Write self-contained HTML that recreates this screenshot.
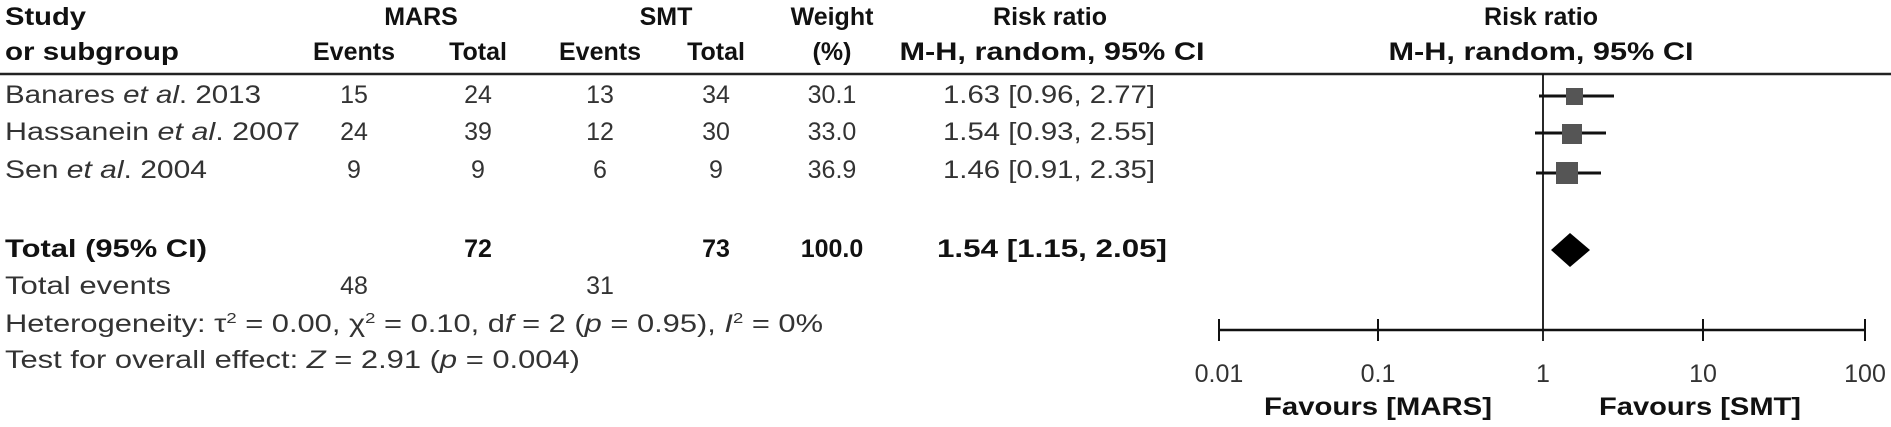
<!DOCTYPE html>
<html><head><meta charset="utf-8"><style>
html,body{margin:0;padding:0;background:#fff}
svg{display:block}
text{font-family:"Liberation Sans",sans-serif;font-size:25px;fill:#333}
.b{font-weight:bold;fill:#111}
.m{text-anchor:middle}
.e{text-anchor:end}
</style></head><body>
<svg width="1891" height="427" viewBox="0 0 1891 427">
<text class="b" x="5" y="25" textLength="81" lengthAdjust="spacingAndGlyphs">Study</text>
<text class="b" x="5" y="60" textLength="174" lengthAdjust="spacingAndGlyphs">or subgroup</text>
<text class="b m" x="421" y="25">MARS</text>
<text class="b m" x="666" y="25">SMT</text>
<text class="b m" x="832" y="25">Weight</text>
<text class="b m" x="1050" y="25">Risk ratio</text>
<text class="b m" x="354" y="60">Events</text>
<text class="b m" x="478" y="60">Total</text>
<text class="b m" x="600" y="60">Events</text>
<text class="b m" x="716" y="60">Total</text>
<text class="b m" x="832" y="60">(%)</text>
<text class="b m" x="1052" y="60" textLength="305" lengthAdjust="spacingAndGlyphs">M-H, random, 95% CI</text>
<text class="b m" x="1541" y="25">Risk ratio</text>
<text class="b m" x="1541" y="60" textLength="305" lengthAdjust="spacingAndGlyphs">M-H, random, 95% CI</text>
<line x1="0" y1="74" x2="1891" y2="74" stroke="#222" stroke-width="2.5"/>
<text x="5" y="103" textLength="256" lengthAdjust="spacingAndGlyphs">Banares <tspan font-style="italic">et al</tspan>. 2013</text>
<text class="m" x="354" y="103">15</text><text class="m" x="478" y="103">24</text><text class="m" x="600" y="103">13</text><text class="m" x="716" y="103">34</text><text class="m" x="832" y="103">30.1</text>
<text class="e" x="1155" y="103" textLength="212" lengthAdjust="spacingAndGlyphs">1.63 [0.96, 2.77]</text>
<text x="5" y="140" textLength="295" lengthAdjust="spacingAndGlyphs">Hassanein <tspan font-style="italic">et al</tspan>. 2007</text>
<text class="m" x="354" y="140">24</text><text class="m" x="478" y="140">39</text><text class="m" x="600" y="140">12</text><text class="m" x="716" y="140">30</text><text class="m" x="832" y="140">33.0</text>
<text class="e" x="1155" y="140" textLength="212" lengthAdjust="spacingAndGlyphs">1.54 [0.93, 2.55]</text>
<text x="5" y="178" textLength="202" lengthAdjust="spacingAndGlyphs">Sen <tspan font-style="italic">et al</tspan>. 2004</text>
<text class="m" x="354" y="178">9</text><text class="m" x="478" y="178">9</text><text class="m" x="600" y="178">6</text><text class="m" x="716" y="178">9</text><text class="m" x="832" y="178">36.9</text>
<text class="e" x="1155" y="178" textLength="212" lengthAdjust="spacingAndGlyphs">1.46 [0.91, 2.35]</text>
<text class="b" x="5" y="257" textLength="202" lengthAdjust="spacingAndGlyphs">Total (95% CI)</text>
<text class="b m" x="478" y="257">72</text><text class="b m" x="716" y="257">73</text><text class="b m" x="832" y="257">100.0</text>
<text class="b e" x="1167" y="257" textLength="230" lengthAdjust="spacingAndGlyphs">1.54 [1.15, 2.05]</text>
<text x="5" y="294" textLength="166" lengthAdjust="spacingAndGlyphs">Total events</text>
<text class="m" x="354" y="294">48</text><text class="m" x="600" y="294">31</text>
<text x="5" y="332" textLength="818" lengthAdjust="spacingAndGlyphs">Heterogeneity: τ<tspan font-size="15" dy="-9">2</tspan><tspan dy="9"> = 0.00, χ</tspan><tspan font-size="15" dy="-9">2</tspan><tspan dy="9"> = 0.10, d</tspan><tspan font-style="italic">f</tspan> = 2 (<tspan font-style="italic">p</tspan> = 0.95), <tspan font-style="italic">I</tspan><tspan font-size="15" dy="-9">2</tspan><tspan dy="9"> = 0%</tspan></text>
<text x="5" y="368" textLength="575" lengthAdjust="spacingAndGlyphs">Test for overall effect: <tspan font-style="italic">Z</tspan> = 2.91 (<tspan font-style="italic">p</tspan> = 0.004)</text>
<line x1="1543" y1="74" x2="1543" y2="341" stroke="#111" stroke-width="1.8"/>
<line x1="1539" y1="96" x2="1614" y2="96" stroke="#111" stroke-width="3"/>
<rect x="1566" y="88" width="17" height="17" fill="#555"/>
<line x1="1535" y1="133" x2="1606" y2="133" stroke="#111" stroke-width="3"/>
<rect x="1562" y="124" width="20" height="20" fill="#555"/>
<line x1="1536" y1="173" x2="1601" y2="173" stroke="#111" stroke-width="3"/>
<rect x="1556" y="162" width="22" height="22" fill="#555"/>
<polygon points="1551,250 1570,233 1590,250 1570,267" fill="#000"/>
<line x1="1219" y1="330" x2="1865" y2="330" stroke="#111" stroke-width="2.5"/>
<g stroke="#111" stroke-width="2">
<line x1="1219" y1="319" x2="1219" y2="341"/><line x1="1378" y1="319" x2="1378" y2="341"/><line x1="1703" y1="319" x2="1703" y2="341"/><line x1="1865" y1="319" x2="1865" y2="341"/>
</g>
<text class="m" x="1219" y="382">0.01</text>
<text class="m" x="1378" y="382">0.1</text>
<text class="m" x="1543" y="382">1</text>
<text class="m" x="1703" y="382">10</text>
<text class="m" x="1865" y="382">100</text>
<text class="b m" x="1378" y="415" textLength="228" lengthAdjust="spacingAndGlyphs">Favours [MARS]</text>
<text class="b m" x="1700" y="415" textLength="202" lengthAdjust="spacingAndGlyphs">Favours [SMT]</text>
</svg>
</body></html>
